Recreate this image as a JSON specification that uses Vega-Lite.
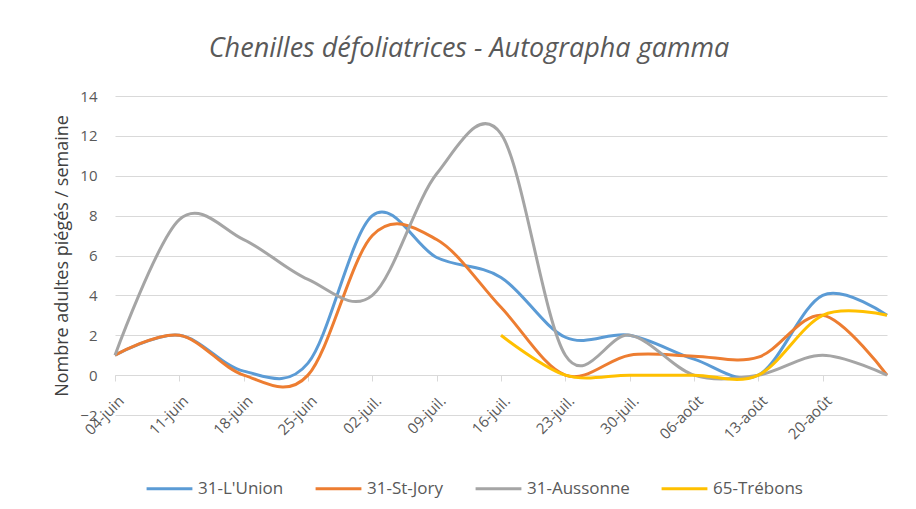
{
  "$schema": "https://vega.github.io/schema/vega-lite/v6.json",
  "width": 772,
  "height": 319,
  "autosize": "none",
  "padding": {"left": 115, "top": 96, "right": 29, "bottom": 94},
  "background": "white",
  "config": {
    "view": {"stroke": null},
    "font": "Open Sans",
    "locale": {
      "time": {
        "dateTime": "%A %e %B %Y à %X",
        "date": "%d/%m/%Y",
        "time": "%H:%M:%S",
        "periods": ["AM", "PM"],
        "days": ["dimanche", "lundi", "mardi", "mercredi", "jeudi", "vendredi", "samedi"],
        "shortDays": ["dim.", "lun.", "mar.", "mer.", "jeu.", "ven.", "sam."],
        "months": ["janvier", "février", "mars", "avril", "mai", "juin", "juillet", "août", "septembre", "octobre", "novembre", "décembre"],
        "shortMonths": ["janv.", "févr.", "mars", "avr.", "mai", "juin", "juil.", "août", "sept.", "oct.", "nov.", "déc."]
      }
    }
  },
  "title": {
    "text": "Chenilles défoliatrices - Autographa gamma",
    "fontStyle": "italic",
    "fontWeight": "normal",
    "fontSize": 27,
    "color": "#595959",
    "anchor": "middle",
    "dx": -32,
    "offset": 26
  },
  "data": {
    "values": [
      {"date": "2018-06-04", "site": "31-L'Union", "value": 1},
      {"date": "2018-06-11", "site": "31-L'Union", "value": 2},
      {"date": "2018-06-18", "site": "31-L'Union", "value": 0.2},
      {"date": "2018-06-25", "site": "31-L'Union", "value": 0.6},
      {"date": "2018-07-02", "site": "31-L'Union", "value": 8},
      {"date": "2018-07-09", "site": "31-L'Union", "value": 5.9},
      {"date": "2018-07-16", "site": "31-L'Union", "value": 4.9},
      {"date": "2018-07-23", "site": "31-L'Union", "value": 1.9},
      {"date": "2018-07-30", "site": "31-L'Union", "value": 2},
      {"date": "2018-08-06", "site": "31-L'Union", "value": 0.8},
      {"date": "2018-08-13", "site": "31-L'Union", "value": 0},
      {"date": "2018-08-20", "site": "31-L'Union", "value": 4},
      {"date": "2018-08-27", "site": "31-L'Union", "value": 3},
      {"date": "2018-06-04", "site": "31-St-Jory", "value": 1},
      {"date": "2018-06-11", "site": "31-St-Jory", "value": 2},
      {"date": "2018-06-18", "site": "31-St-Jory", "value": 0},
      {"date": "2018-06-25", "site": "31-St-Jory", "value": 0},
      {"date": "2018-07-02", "site": "31-St-Jory", "value": 7},
      {"date": "2018-07-09", "site": "31-St-Jory", "value": 6.8},
      {"date": "2018-07-16", "site": "31-St-Jory", "value": 3.4},
      {"date": "2018-07-23", "site": "31-St-Jory", "value": 0},
      {"date": "2018-07-30", "site": "31-St-Jory", "value": 1},
      {"date": "2018-08-06", "site": "31-St-Jory", "value": 0.95},
      {"date": "2018-08-13", "site": "31-St-Jory", "value": 0.9},
      {"date": "2018-08-20", "site": "31-St-Jory", "value": 3},
      {"date": "2018-08-27", "site": "31-St-Jory", "value": 0},
      {"date": "2018-06-04", "site": "31-Aussonne", "value": 1},
      {"date": "2018-06-11", "site": "31-Aussonne", "value": 7.8},
      {"date": "2018-06-18", "site": "31-Aussonne", "value": 6.8},
      {"date": "2018-06-25", "site": "31-Aussonne", "value": 4.8},
      {"date": "2018-07-02", "site": "31-Aussonne", "value": 4},
      {"date": "2018-07-09", "site": "31-Aussonne", "value": 10.1},
      {"date": "2018-07-16", "site": "31-Aussonne", "value": 12.1},
      {"date": "2018-07-23", "site": "31-Aussonne", "value": 1},
      {"date": "2018-07-30", "site": "31-Aussonne", "value": 2},
      {"date": "2018-08-06", "site": "31-Aussonne", "value": 0},
      {"date": "2018-08-13", "site": "31-Aussonne", "value": 0},
      {"date": "2018-08-20", "site": "31-Aussonne", "value": 1},
      {"date": "2018-08-27", "site": "31-Aussonne", "value": 0},
      {"date": "2018-07-16", "site": "65-Trébons", "value": 2},
      {"date": "2018-07-23", "site": "65-Trébons", "value": 0},
      {"date": "2018-07-30", "site": "65-Trébons", "value": 0},
      {"date": "2018-08-06", "site": "65-Trébons", "value": 0},
      {"date": "2018-08-13", "site": "65-Trébons", "value": 0},
      {"date": "2018-08-20", "site": "65-Trébons", "value": 3},
      {"date": "2018-08-27", "site": "65-Trébons", "value": 3}
    ]
  },
  "mark": {"type": "line", "interpolate": "cardinal", "tension": 0, "strokeWidth": 3},
  "encoding": {
    "x": {
      "field": "date",
      "type": "temporal",
      "scale": {
        "type": "utc",
        "domain": [
          {"year": 2018, "month": 6, "date": 4, "utc": true},
          {"year": 2018, "month": 8, "date": 27, "utc": true}
        ]
      },
      "axis": {
        "title": null,
        "format": "%d-%b",
        "values": [
          {"year": 2018, "month": 6, "date": 4, "utc": true},
          {"year": 2018, "month": 6, "date": 11, "utc": true},
          {"year": 2018, "month": 6, "date": 18, "utc": true},
          {"year": 2018, "month": 6, "date": 25, "utc": true},
          {"year": 2018, "month": 7, "date": 2, "utc": true},
          {"year": 2018, "month": 7, "date": 9, "utc": true},
          {"year": 2018, "month": 7, "date": 16, "utc": true},
          {"year": 2018, "month": 7, "date": 23, "utc": true},
          {"year": 2018, "month": 7, "date": 30, "utc": true},
          {"year": 2018, "month": 8, "date": 6, "utc": true},
          {"year": 2018, "month": 8, "date": 13, "utc": true},
          {"year": 2018, "month": 8, "date": 20, "utc": true}
        ],
        "offset": -40,
        "grid": false,
        "domainColor": "#D9D9D9",
        "tickColor": "#D9D9D9",
        "tickSize": 6,
        "labelAngle": -45,
        "labelAlign": "right",
        "labelBaseline": "middle",
        "labelFontSize": 15,
        "labelColor": "#595959",
        "labelPadding": 17,
        "labelOffset": 6
      }
    },
    "y": {
      "field": "value",
      "type": "quantitative",
      "scale": {"domain": [-2, 14], "nice": false},
      "axis": {
        "values": [-2, 0, 2, 4, 6, 8, 10, 12, 14],
        "grid": true,
        "gridColor": "#D9D9D9",
        "domain": false,
        "ticks": false,
        "labelPadding": 18,
        "labelFontSize": 15,
        "labelColor": "#595959",
        "title": "Nombre adultes piégés / semaine",
        "titleFontSize": 18,
        "titleFontWeight": "normal",
        "titleColor": "#404040",
        "titlePadding": 8
      }
    },
    "color": {
      "field": "site",
      "type": "nominal",
      "scale": {
        "domain": ["31-L'Union", "31-St-Jory", "31-Aussonne", "65-Trébons"],
        "range": ["#5B9BD5", "#ED7D31", "#A5A5A5", "#FFC000"]
      },
      "legend": {
        "title": null,
        "orient": "none",
        "legendX": 30,
        "legendY": 368,
        "direction": "horizontal",
        "symbolType": "stroke",
        "symbolSize": 2100,
        "symbolStrokeWidth": 3,
        "labelFontSize": 17,
        "labelColor": "#595959",
        "labelOffset": 4,
        "columnPadding": 25
      }
    }
  }
}
